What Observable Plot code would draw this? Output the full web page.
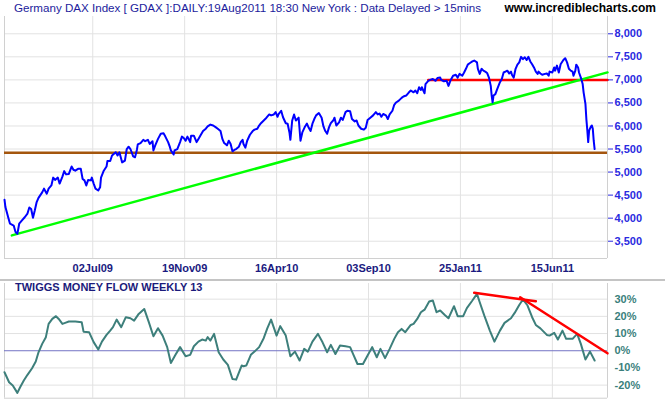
<!DOCTYPE html>
<html><head><meta charset="utf-8">
<script src="https://cdn.jsdelivr.net/npm/d3@7"></script>
<script src="https://cdn.jsdelivr.net/npm/@observablehq/plot@0.6"></script>
<style>
body{margin:0;background:#fff;font-family:"Liberation Sans",Arial,sans-serif;}
#wrap{position:relative;width:665px;height:405px;overflow:hidden;background:#fff}
#title{position:absolute;left:14px;top:1px;font-size:11.6px;line-height:14px;color:#1c1c9c;white-space:nowrap;z-index:3}
#site{position:absolute;right:9px;top:1px;font-size:12px;line-height:14px;font-weight:bold;color:#000;white-space:nowrap;z-index:3}
#top{position:absolute;left:0;top:0}
#bot{position:absolute;left:0;top:280px}
#sep{position:absolute;left:0;top:279px;width:665px;height:2px;background:#c4c4c4;z-index:2}
#mftitle{position:absolute;left:15px;top:281px;font-size:11px;line-height:13px;font-weight:bold;color:#1b1b7b;white-space:nowrap;z-index:3}
</style></head><body>
<div id="wrap">
<div id="title">Germany DAX Index [ GDAX ]:DAILY:19Aug2011 18:30 New York : Data Delayed &gt; 15mins</div>
<div id="site">www.incrediblecharts.com</div>
<div id="top"></div>
<div id="bot"></div>
<div id="sep"></div>
<div id="mftitle">TWIGGS MONEY FLOW WEEKLY 13</div>
</div>
<script>
// trading-day index of axis labels
const tickDays = [100, 200, 300, 400, 500, 600];
const tickLabels = ["02Jul09", "19Nov09", "16Apr10", "03Sep10", "25Jan11", "15Jun11"];
const priceTicks = [3500, 4000, 4500, 5000, 5500, 6000, 6500, 7000, 7500, 8000];
const mfTicks = [-20, -10, 0, 10, 20, 30];

// DAX daily close (sampled), trading-day index
const priceIdx = [4,5,8,10,14,16,18,20,23,26,29,31,33,35,37,39,41,45,47,50,52,55,57,59,62,64,67,69,71,74,77,79,81,84,87,89,91,93,95,98,99,101,103,106,108,109,112,115,116,119,121,125,127,129,132,135,137,139,141,144,146,148,149,152,155,157,160,162,165,166,168,171,174,177,179,182,184,185,188,189,192,195,197,199,201,203,206,207,210,213,215,217,220,223,225,228,231,234,236,239,241,243,246,248,250,252,254,256,259,261,263,264,266,268,271,274,276,279,281,283,286,289,292,294,297,299,301,302,305,307,310,312,314,315,317,319,321,324,326,328,331,333,335,337,339,341,343,346,349,351,353,355,357,359,362,363,365,368,370,372,375,377,380,382,385,387,389,392,395,397,399,402,405,408,410,412,414,416,419,421,423,426,428,430,433,436,438,441,444,446,449,451,453,455,457,458,461,462,465,467,470,473,475,478,479,482,485,487,489,492,495,497,499,502,504,506,508,510,513,515,518,519,521,523,525,527,529,531,533,534,535,536,538,540,543,545,547,549,551,553,555,556,558,560,562,564,566,568,570,572,574,576,578,580,582,584,585,587,589,592,594,596,597,600,602,603,605,607,609,612,614,616,618,620,622,623,625,626,628,629,631,633,634,636,637,638,639,640,642,643,644,645,646];
const priceClose = [4400,4240,4020,3880,3840,3700,3660,3880,3950,4020,4100,4230,4200,4010,4170,4350,4440,4560,4640,4530,4640,4710,4880,4830,4880,4750,4900,5020,4950,4960,5120,5050,5030,5070,5070,4850,4820,4710,4830,4820,4880,4750,4640,4600,4670,4880,5030,5120,5240,5240,5360,5430,5360,5430,5210,5250,5500,5550,5500,5340,5320,5480,5600,5630,5700,5670,5700,5610,5670,5470,5580,5720,5830,5840,5770,5650,5540,5470,5380,5470,5500,5650,5770,5740,5680,5770,5650,5790,5790,5650,5720,5790,5890,5940,5990,6030,6010,5970,5940,5890,5720,5630,5580,5680,5610,5450,5480,5500,5550,5650,5700,5610,5530,5680,5810,5890,5920,5940,6010,6060,6120,6180,6250,6230,6250,6300,6200,6250,6330,6190,6060,6050,5860,5700,6120,6250,6120,6180,5680,5860,5990,6050,5960,5890,6050,6150,6230,6280,6180,5990,5890,5830,5970,6060,6130,6180,6010,6080,6180,6130,6300,6330,6320,6150,6100,6120,6010,5940,5920,5960,6130,6180,6230,6300,6250,6270,6200,6260,6230,6150,6250,6330,6460,6510,6550,6610,6640,6660,6730,6770,6730,6770,6710,6840,6780,6840,6710,6910,6980,7000,7020,6980,7040,7050,7000,6970,6980,6870,6980,7090,7110,7050,7130,7090,7160,7240,7330,7360,7400,7420,7380,7240,7130,7240,7200,7180,7150,7050,6870,6660,6510,6660,6690,6800,6950,7020,7160,7180,7200,7140,7180,7110,7050,7240,7330,7380,7500,7450,7490,7430,7500,7400,7340,7270,7180,7130,7180,7140,7110,7130,7140,7090,7180,7160,7270,7200,7310,7160,7340,7430,7470,7380,7240,7200,7180,7090,7200,7330,7270,7160,7050,6910,6730,6480,6150,5920,5650,5900,5990,6010,5940,5680,5500];

// Twiggs Money Flow (weekly 13), percent
const mfIdx = [4,9,13,18,21,25,29,34,38,41,45,49,52,56,60,63,67,70,74,81,88,90,96,101,106,110,115,119,122,126,131,136,141,145,150,156,161,166,171,176,181,185,190,195,201,206,210,215,219,223,225,228,232,237,242,247,252,256,262,264,267,272,276,281,286,290,294,300,304,310,315,320,325,330,334,339,345,350,355,359,364,369,375,380,384,388,394,399,404,409,413,418,423,428,432,436,440,446,449,453,457,461,466,470,474,478,483,487,493,497,503,507,513,518,521,526,532,537,543,548,555,559,564,568,573,578,582,587,594,597,602,606,611,615,622,627,631,636,641,646];
const mfValue = [-12.5,-18.3,-20.2,-24.5,-21.2,-17.3,-14.0,-10.2,-6.3,-0.9,4.0,7.9,15.6,18.5,20.1,18.5,15.6,16.2,17.0,17.0,16.6,11.1,10.8,5.0,0.7,5.3,9.2,11.7,13.7,18.1,13.7,19.5,18.9,17.5,21.4,24.3,16.6,8.4,13.1,8.8,2.1,-7.1,-2.4,2.1,-3.2,-2.4,2.6,5.3,6.5,5.9,7.9,5.9,9.8,-0.9,-5.1,-8.2,-16.4,-16.8,-8.6,-9.0,-8.6,-2.4,-0.5,2.1,7.3,13.1,18.1,8.8,14.3,8.8,-3.2,-0.5,-5.7,1.1,-0.5,5.3,9.8,4.9,-0.9,3.4,-1.9,3.0,2.6,2.1,-2.8,-7.7,-7.7,-2.8,2.1,-3.8,1.1,-4.3,1.1,6.9,10.8,12.7,10.8,15.0,15.6,18.5,22.4,23.9,28.6,29.2,22.4,23.4,20.8,18.9,25.9,20.1,20.1,24.8,29.2,33.1,28.2,20.4,11.7,5.3,11.7,16.2,18.9,22.0,26.6,29.8,26.3,19.5,15.0,13.0,9.2,8.8,10.4,6.5,11.7,6.9,6.9,9.8,4.0,-5.1,-0.5,-5.7];

// drawn trend/support lines (day, level)
const supportLevel = [5420];
const resistanceDays = [465, 660];
const resistanceLevels = [7000, 7000];
const uptrendDays = [12, 660];
const uptrendLevels = [3627, 7162];
const mfTrend1Days = [515, 582];
const mfTrend1Levels = [33.7, 28.8];
const mfTrend2Days = [565, 660];
const mfTrend2Levels = [31.1, -1.5];

const xDomain = [4, 660];
const font = "'Liberation Sans', Arial, sans-serif";
const pts = (xs, ys) => xs.map((d, i) => ({day: d, v: ys[i]}));
const labelOf = new Map(tickDays.map((d, i) => [d, tickLabels[i]]));
const grid = "#e2e2e2";
const border = "#d0d0d0";

const topChart = Plot.plot({
  width: 665, height: 280,
  marginTop: 16, marginBottom: 22, marginLeft: 4, marginRight: 58,
  style: {fontFamily: font, background: "transparent", overflow: "visible"},
  x: {domain: xDomain, axis: null},
  y: {domain: [3125, 8375], axis: null},
  marks: [
    Plot.ruleX(tickDays, {stroke: grid}),
    Plot.ruleY(priceTicks, {stroke: grid}),
    Plot.ruleX(xDomain, {stroke: border}),
    Plot.ruleY([3125], {stroke: border}),
    Plot.ruleY(supportLevel, {stroke: "#a4560e", strokeWidth: 2.5}),
    Plot.line(pts(resistanceDays, resistanceLevels), {x: "day", y: "v", stroke: "#ff0000", strokeWidth: 2.5}),
    Plot.line(pts(uptrendDays, uptrendLevels), {x: "day", y: "v", stroke: "#00ff00", strokeWidth: 2.5}),
    Plot.line(pts(priceIdx, priceClose), {x: "day", y: "v", stroke: "#0000ff", strokeWidth: 2}),
    Plot.axisX({ticks: tickDays, tickFormat: d => labelOf.get(d), tickSize: 0, tickPadding: 6, label: null,
      fill: "#1a1a80", fontWeight: "bold", fontSize: 11}),
    Plot.axisY({anchor: "right", ticks: priceTicks, tickFormat: d3.format(","), tickSize: 5, tickPadding: 2, label: null,
      stroke: "#2a2ae0", fill: "#2a2ae0", fontWeight: "bold", fontSize: 11})
  ]
});
document.getElementById("top").appendChild(topChart);

const botChart = Plot.plot({
  width: 665, height: 125,
  marginTop: 3, marginBottom: 7.3, marginLeft: 4, marginRight: 58,
  style: {fontFamily: font, background: "transparent", overflow: "visible"},
  x: {domain: xDomain, axis: null},
  y: {domain: [-27.6, 39.1], axis: null},
  marks: [
    Plot.ruleX(tickDays, {stroke: grid}),
    Plot.ruleY(mfTicks.filter(d => d !== 0), {stroke: grid}),
    Plot.ruleX(xDomain, {stroke: border}),
    Plot.ruleY([-27.6], {stroke: border}),
    Plot.ruleY([0], {stroke: "#7474c4"}),
    Plot.line(pts(mfIdx, mfValue), {x: "day", y: "v", stroke: "#3d7f7b", strokeWidth: 2}),
    Plot.line(pts(mfTrend1Days, mfTrend1Levels), {x: "day", y: "v", stroke: "#ff0000", strokeWidth: 2.5}),
    Plot.line(pts(mfTrend2Days, mfTrend2Levels), {x: "day", y: "v", stroke: "#ff0000", strokeWidth: 2.5}),
    Plot.axisY({anchor: "right", ticks: mfTicks, tickFormat: d => d + "%", tickSize: 0, tickPadding: 7, label: null,
      fill: "#3a7f7c", fontWeight: "bold", fontSize: 11})
  ]
});
document.getElementById("bot").appendChild(botChart);
</script>
</body></html>
